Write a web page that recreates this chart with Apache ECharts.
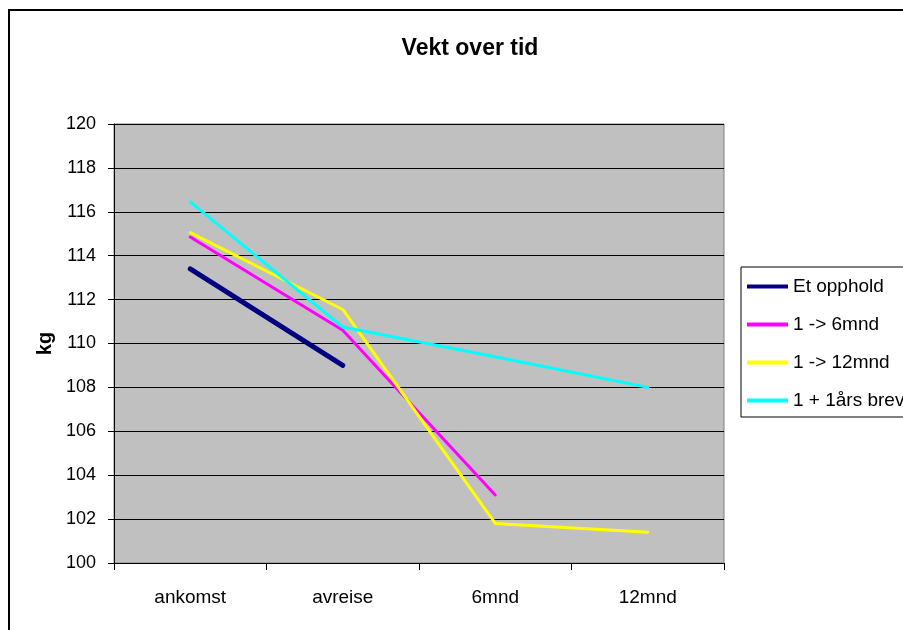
<!DOCTYPE html>
<html><head><meta charset="utf-8">
<script src="https://cdn.jsdelivr.net/npm/echarts@6/dist/echarts.min.js"></script>
<style>html,body{margin:0;padding:0;background:#fff}#c{width:903px;height:630px}</style>
</head><body><div id="c"></div>
<script>
const categories = ['ankomst', 'avreise', '6mnd', '12mnd'];
const etOpphold = [113.4, 109.0, null, null];
const seksMnd = [114.85, 110.6, 103.1, null];
const tolvMnd = [115.05, 111.55, 101.8, 101.4];
const brev = [116.45, 110.75, 109.4, 108.0];
const seriesNames = ['Et opphold', '1 -> 6mnd', '1 -> 12mnd', '1 + 1års brev'];

const chart = echarts.init(document.getElementById('c'));
const font = 'Liberation Sans, Arial, sans-serif';
function mk(name, data, color, width) {
  return { name, type: 'line', data, symbol: 'none', color,
    lineStyle: { color, width, cap: 'round' }, animation: false };
}
chart.setOption({
  animation: false,
  backgroundColor: '#fff',
  title: { text: 'Vekt over tid', left: 465, top: 32, textAlign: 'center',
    textStyle: { fontFamily: font, fontSize: 23, fontWeight: 'bold', color: '#000' } },
  graphic: [
    { type: 'rect', shape: { x: 9, y: 10, width: 1000, height: 1000 },
      style: { fill: null, stroke: '#000', lineWidth: 2 }, z: 100 }
  ],
  legend: {
    left: 741, top: 267, orient: 'vertical',
    data: seriesNames.map(n => ({ name: n, icon: 'rect' })),
    itemWidth: 41, itemHeight: 4, itemGap: 19,
    padding: [10, 6, 7, 6],
    borderColor: '#000', borderWidth: 1, backgroundColor: '#fff',
    textStyle: { fontFamily: font, fontSize: 19, lineHeight: 19, color: '#000' }
  },
  grid: { left: 114, right: 179, top: 124, bottom: 67, show: true,
    backgroundColor: '#C0C0C0', borderColor: '#808080', borderWidth: 1 },
  xAxis: {
    type: 'category', data: categories, boundaryGap: true,
    axisLine: { lineStyle: { color: '#000', width: 1 } },
    axisTick: { show: true, length: 7, lineStyle: { color: '#000' } },
    axisLabel: { fontFamily: font, fontSize: 19, color: '#000', margin: 25 }
  },
  yAxis: {
    type: 'value', min: 100, max: 120, interval: 2,
    name: 'kg', nameLocation: 'middle', nameGap: 58,
    nameTextStyle: { fontFamily: font, fontSize: 20, fontWeight: 'bold', color: '#000' },
    axisLine: { show: true, lineStyle: { color: '#000', width: 1 } },
    axisTick: { show: true, length: 6, lineStyle: { color: '#000' } },
    axisLabel: { fontFamily: font, fontSize: 18, color: '#000', margin: 18 },
    splitLine: { show: true, lineStyle: { color: '#000', width: 1 } }
  },
  series: [
    mk(seriesNames[0], etOpphold, '#000080', 5),
    mk(seriesNames[1], seksMnd, '#FF00FF', 3),
    mk(seriesNames[2], tolvMnd, '#FFFF00', 3),
    mk(seriesNames[3], brev, '#00FFFF', 3)
  ]
});
</script></body></html>
